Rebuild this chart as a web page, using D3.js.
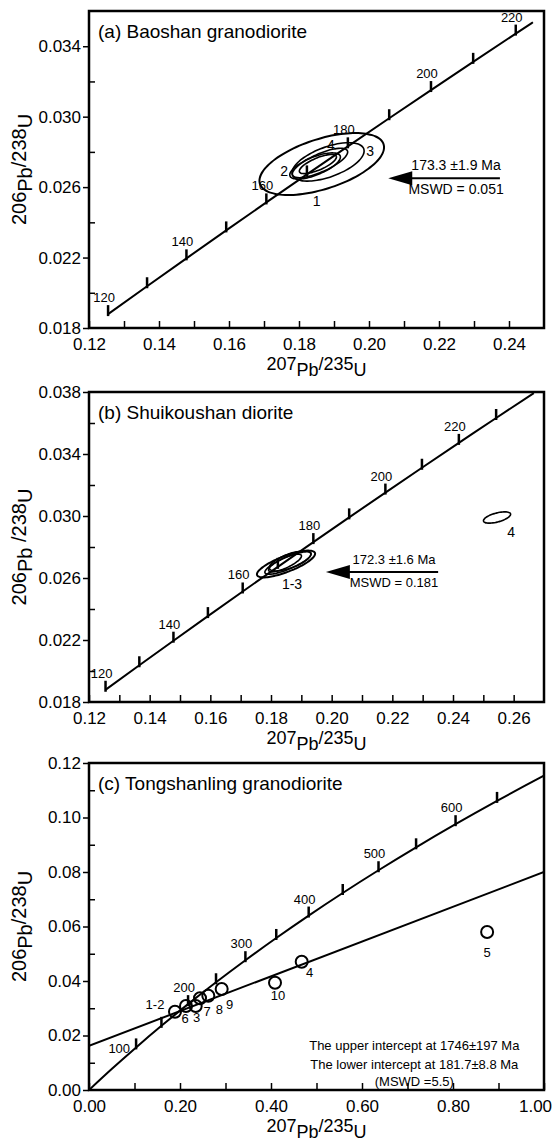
<!DOCTYPE html>
<meta charset="utf-8">
<html><head>
<title>U-Pb concordia</title>
<style>
  body { margin: 0; background: #fff; }
  text { font-family: "Liberation Sans", Arial, Helvetica, sans-serif; fill: #000; }
</style>
</head><body>
<script src="https://d3js.org/d3.v7.min.js"></script>
<script>

// ---- concordia (a) and (b): age (Ma), 207Pb/235U, 206Pb/238U
var concAge = [120, 130, 140, 150, 160, 170, 180, 190, 200, 210, 220, 224, 230, 240];
var concX   = [0.12545, 0.13659, 0.14784, 0.15920, 0.17067, 0.18226, 0.19396, 0.20577, 0.21771, 0.22976, 0.24193, 0.24683, 0.25422, 0.26664];
var concY   = [0.018789, 0.020371, 0.021955, 0.023542, 0.025131, 0.026722, 0.028316, 0.029912, 0.031511, 0.033113, 0.034717, 0.035360, 0.036323, 0.037932];
var concLabelAges = [120, 140, 160, 180, 200, 220];

// ---- concordia (c)
var concAgeC = [0, 50, 100, 150, 200, 250, 300, 350, 400, 450, 500, 550, 600, 650, 700, 704];
var concXC   = [0, 0.05048, 0.10350, 0.15920, 0.21771, 0.27917, 0.34374, 0.41156, 0.48281, 0.55766, 0.63628, 0.71887, 0.80563, 0.89677, 0.99251, 1.0];
var concYC   = [0, 0.007786, 0.015633, 0.023542, 0.031511, 0.039543, 0.047637, 0.055794, 0.064016, 0.072300, 0.080650, 0.089064, 0.097544, 0.10609, 0.114702, 0.11536];
var concLabelAgesC = [100, 200, 300, 400, 500, 600];

// ---- discordia (c)
var discX = [0, 1.0];
var discY = [0.0162, 0.0800];

// ---- error ellipses: centre, half extents, correlation
var ellA = [
  {label: "1", x: 0.1865, y: 0.02731, sx: 0.0178,  sy: 0.00176,  rho: 0.54},
  {label: "3", x: 0.1883, y: 0.02743, sx: 0.0103,  sy: 0.00109,  rho: 0.569},
  {label: "4", x: 0.1860, y: 0.02737, sx: 0.0079,  sy: 0.000835, rho: 0.748},
  {label: "2", x: 0.1846, y: 0.02720, sx: 0.00723, sy: 0.000744, rho: 0.679},
  {label: "",  x: 0.1854, y: 0.02731, sx: 0.0053,  sy: 0.000545, rho: 0.737}
];
var ellB = [
  {label: "1-3", x: 0.18495, y: 0.026903, sx: 0.00959, sy: 0.000864, rho: 0.771},
  {label: "",    x: 0.18627, y: 0.027100, sx: 0.00686, sy: 0.000645, rho: 0.672},
  {label: "",    x: 0.18561, y: 0.026968, sx: 0.00763, sy: 0.000724, rho: 0.816},
  {label: "",    x: 0.18462, y: 0.026968, sx: 0.00542, sy: 0.000571, rho: 0.786},
  {label: "4",   x: 0.25452, y: 0.029903, sx: 0.00447, sy: 0.000365, rho: 0.572}
];

// ---- spot analyses (c)
var ptLabels = ["1-2", "6", "3", "7", "8", "9", "10", "4", "5"];
var ptX = [0.189, 0.2132, 0.2345, 0.244, 0.2622, 0.2916, 0.4088, 0.4675, 0.875];
var ptY = [0.02873, 0.03083, 0.03083, 0.03365, 0.03461, 0.03706, 0.03938, 0.04708, 0.0580];

// ---- axis tick labels
var aXLabels = [0.12, 0.14, 0.16, 0.18, 0.20, 0.22, 0.24];
var aYLabels = [0.018, 0.022, 0.026, 0.030, 0.034];
var aYMinor  = [0.020, 0.024, 0.028, 0.032];
var bXLabels = [0.12, 0.14, 0.16, 0.18, 0.20, 0.22, 0.24, 0.26];
var bYLabels = [0.018, 0.022, 0.026, 0.030, 0.034, 0.038];
var bYMinor  = [0.020, 0.024, 0.028, 0.032, 0.036];
var cXLabels = [0, 0.2, 0.4, 0.6, 0.8, 1.0];
var cYLabels = [0, 0.02, 0.04, 0.06, 0.08, 0.10, 0.12];
var cYMinor  = [0.01, 0.03, 0.05, 0.07, 0.09, 0.11];

var ageTextA = ["173.3 \u00b11.9 Ma", "MSWD = 0.051"];
var ageTextB = ["172.3 \u00b11.6 Ma", "MSWD = 0.181"];
var interceptText = ["The upper intercept at 1746\u00b1197  Ma",
                     "The lower intercept at 181.7\u00b18.8 Ma",
                     "(MSWD =5.5)"];

var width = 559, height = 1148;
var L = 89, R = 544;

var svg = d3.select("body").append("svg")
    .attr("width", width)
    .attr("height", height);

function near(list, v) {
  return list.some(function(l) { return Math.abs(l - v) < 1e-9; });
}

function ratioLabel(sel, num1, el1, num2, el2) {
  sel.append("tspan").attr("dy", -6).text(num1);
  sel.append("tspan").attr("dy", 6).text(el1);
  sel.append("tspan").attr("dy", -6).text(num2);
  sel.append("tspan").attr("dy", 6).text(el2);
}

function makePanel(o) {
  var x = d3.scaleLinear().domain(o.xDom).range([L, R]);
  var y = d3.scaleLinear().domain(o.yDom).range([o.bottom, o.top]);
  var g = svg.append("g");

  g.append("clipPath").attr("id", o.id)
    .append("rect")
      .attr("x", L).attr("y", o.top)
      .attr("width", R - L).attr("height", o.bottom - o.top);

  // x axis, ticks pointing inward
  var xa = g.append("g")
      .attr("transform", "translate(0," + o.bottom + ")")
      .call(d3.axisBottom(x)
        .tickValues(o.xTicks)
        .tickSize(-7)
        .tickPadding(10)
        .tickFormat(function(v) { return near(o.xLabels, v) ? o.fmtX(v) : ""; }));
  xa.select(".domain").remove();
  xa.attr("font-size", 17);
  xa.selectAll("line").attr("stroke-width", 1.5);
  // last label on the right edge is pulled in a little, as in the print
  xa.selectAll("text").filter(function(v) { return v === o.xDom[1]; })
      .attr("dx", -9);

  // y axis: labelled ticks outward, minor ticks inward
  var ya = g.append("g")
      .attr("transform", "translate(" + L + ",0)")
      .call(d3.axisLeft(y).tickValues(o.yLabels).tickSize(6).tickPadding(2).tickFormat(o.fmtY));
  ya.select(".domain").remove();
  ya.attr("font-size", 17);
  ya.selectAll("line").attr("stroke-width", 1.5);

  var ym = g.append("g")
      .attr("transform", "translate(" + L + ",0)")
      .call(d3.axisLeft(y).tickValues(o.yMinor).tickSize(-6).tickFormat(""));
  ym.select(".domain").remove();
  ym.selectAll("line").attr("stroke-width", 1.5);

  g.append("rect")
      .attr("x", L).attr("y", o.top)
      .attr("width", R - L).attr("height", o.bottom - o.top)
      .attr("fill", "none").attr("stroke", "#000").attr("stroke-width", 2.5);

  // titles
  g.append("text")
      .attr("x", 98).attr("y", o.top + 27)
      .attr("font-size", 19)
      .text(o.title);

  var xt = g.append("text")
      .attr("x", (L + R) / 2).attr("y", o.bottom + 48)
      .attr("text-anchor", "middle")
      .attr("font-size", 18);
  ratioLabel(xt, "207", "Pb", "/235", "U");

  var yt = g.append("text")
      .attr("transform", "translate(32," + ((o.top + o.bottom) / 2) + ") rotate(-90)")
      .attr("text-anchor", "middle")
      .attr("font-size", 20);
  ratioLabel(yt, "206", "Pb", o.yGap ? " /238" : "/238", "U");

  var plot = g.append("g").attr("clip-path", "url(#" + o.id + ")");
  return {x: x, y: y, g: g, plot: plot};
}

function drawConcordia(p, ages, xs, ys, maxAge, tickAges, labelAges) {
  var pts = ages.map(function(a, i) { return {age: a, x: xs[i], y: ys[i]}; })
      .filter(function(d) { return d.age <= maxAge; });
  var line = d3.line()
      .x(function(d) { return p.x(d.x); })
      .y(function(d) { return p.y(d.y); })
      .curve(d3.curveMonotoneX);
  p.plot.append("path")
      .attr("d", line(pts))
      .attr("fill", "none").attr("stroke", "#000").attr("stroke-width", 2);

  var tk = pts.filter(function(d) { return tickAges.indexOf(d.age) >= 0; });
  p.plot.selectAll(null).data(tk).enter().append("line")
      .attr("x1", function(d) { return p.x(d.x); })
      .attr("x2", function(d) { return p.x(d.x); })
      .attr("y1", function(d) { return p.y(d.y) + 2; })
      .attr("y2", function(d) { return p.y(d.y) - 9; })
      .attr("stroke", "#000").attr("stroke-width", 2.5);

  p.g.selectAll(null).data(tk.filter(function(d) { return labelAges.indexOf(d.age) >= 0; }))
    .enter().append("text")
      .attr("x", function(d) { return p.x(d.x) - 4; })
      .attr("y", function(d) { return p.y(d.y) - 12; })
      .attr("text-anchor", "middle")
      .attr("font-size", 13)
      .text(function(d) { return d.age; });
}

function ellipsePath(p, e) {
  var q = Math.sqrt(1 - e.rho * e.rho);
  var pts = d3.range(0, 360, 6).map(function(t) {
    var a = t * Math.PI / 180;
    return [p.x(e.x + e.sx * Math.cos(a)),
            p.y(e.y + e.sy * (e.rho * Math.cos(a) + q * Math.sin(a)))];
  });
  return d3.line().curve(d3.curveCardinalClosed)(pts);
}

function drawEllipses(p, list, offsets) {
  p.plot.selectAll(null).data(list).enter().append("path")
      .attr("d", function(e) { return ellipsePath(p, e); })
      .attr("fill", "none").attr("stroke", "#000")
      .attr("stroke-width", function(e, i) { return i === 0 ? 2 : 1.6; });
  p.g.selectAll(null).data(list.filter(function(e) { return e.label; })).enter().append("text")
      .attr("x", function(e) { return p.x(e.x) + offsets[e.label][0]; })
      .attr("y", function(e) { return p.y(e.y) + offsets[e.label][1]; })
      .attr("text-anchor", "middle")
      .attr("font-size", 14)
      .text(function(e) { return e.label; });
}

function drawArrow(p, tipX, tailX, yv, lines, fs, below) {
  var x0 = p.x(tipX), x1 = p.x(tailX), y0 = p.y(yv);
  p.g.append("path")
      .attr("d", "M" + x0 + "," + y0 + "L" + (x0 + 24) + "," + (y0 - 7) + "L" + (x0 + 24) + "," + (y0 + 7) + "Z")
      .attr("fill", "#000");
  p.g.append("line")
      .attr("x1", x0 + 20).attr("x2", x1)
      .attr("y1", y0).attr("y2", y0)
      .attr("stroke", "#000").attr("stroke-width", 2);
  var cx = (x0 + x1) / 2 + 12;
  p.g.append("text").attr("x", cx).attr("y", y0 - 8)
      .attr("text-anchor", "middle").attr("font-size", fs).text(lines[0]);
  p.g.append("text").attr("x", cx).attr("y", y0 + below)
      .attr("text-anchor", "middle").attr("font-size", fs).text(lines[1]);
}

// ---------- (a)
var pa = makePanel({
  id: "clipA", top: 11, bottom: 328,
  xDom: [0.12, 0.25], yDom: [0.018, 0.036],
  xTicks: d3.range(12, 25).map(function(v) { return v / 100; }),
  xLabels: aXLabels, yLabels: aYLabels, yMinor: aYMinor,
  fmtX: d3.format(".2f"), fmtY: d3.format(".3f"),
  title: "(a) Baoshan granodiorite"
});
drawConcordia(pa, concAge, concX, concY, 224,
  [120, 130, 140, 150, 160, 170, 180, 190, 200, 210, 220], concLabelAges);
drawEllipses(pa, ellA, {"1": [-5, 42], "2": [-31, 10], "3": [42, -6], "4": [11, -13]});
drawArrow(pa, 0.2055, 0.2374, 0.0265, ageTextA, 14, 16);

// ---------- (b)
var pb = makePanel({
  id: "clipB", top: 392, bottom: 702,
  xDom: [0.12, 0.27], yDom: [0.018, 0.038],
  xTicks: d3.range(12, 27).map(function(v) { return v / 100; }),
  xLabels: bXLabels, yLabels: bYLabels, yMinor: bYMinor,
  fmtX: d3.format(".2f"), fmtY: d3.format(".3f"),
  title: "(b) Shuikoushan diorite", yGap: true
});
drawConcordia(pb, concAge, concX, concY, 240,
  [120, 130, 140, 150, 160, 170, 180, 190, 200, 210, 220, 230], concLabelAges);
drawEllipses(pb, ellB, {"1-3": [6, 25], "4": [14, 19]});
drawArrow(pb, 0.1981, 0.2351, 0.02639, ageTextB, 13, 15);

// ---------- (c)
var pc = makePanel({
  id: "clipC", top: 763, bottom: 1090,
  xDom: [0, 1.0], yDom: [0, 0.12],
  xTicks: d3.range(0, 11).map(function(v) { return v / 10; }),
  xLabels: cXLabels, yLabels: cYLabels, yMinor: cYMinor,
  fmtX: d3.format(".2f"), fmtY: d3.format(".2f"),
  title: "(c) Tongshanling granodiorite"
});

pc.plot.append("path")
    .attr("d", d3.line()(discX.map(function(v, i) { return [pc.x(v), pc.y(discY[i])]; })))
    .attr("fill", "none").attr("stroke", "#000").attr("stroke-width", 2);

drawConcordia(pc, concAgeC, concXC, concYC, 704,
  [100, 150, 200, 250, 300, 350, 400, 450, 500, 550, 600, 650], concLabelAgesC.filter(function(a) { return a !== 100; }));

// the 100 Ma label sits left of its tick
pc.g.append("text")
    .attr("x", pc.x(concXC[2]) - 6).attr("y", pc.y(concYC[2]) + 6)
    .attr("text-anchor", "end").attr("font-size", 13)
    .text(concLabelAgesC[0]);

var ptOff = {"1-2": [-20, -3], "6": [-1, 17], "3": [1, 16], "7": [7, 18], "8": [11, 18],
             "9": [8, 20], "10": [3, 17], "4": [8, 15], "5": [0, 25]};

pc.plot.selectAll(null).data(ptLabels).enter().append("circle")
    .attr("cx", function(d, i) { return pc.x(ptX[i]); })
    .attr("cy", function(d, i) { return pc.y(ptY[i]); })
    .attr("r", 6)
    .attr("fill", "none").attr("stroke", "#000").attr("stroke-width", 2);

pc.g.selectAll(null).data(ptLabels).enter().append("text")
    .attr("x", function(d, i) { return pc.x(ptX[i]) + ptOff[d][0]; })
    .attr("y", function(d, i) { return pc.y(ptY[i]) + ptOff[d][1]; })
    .attr("text-anchor", "middle")
    .attr("font-size", 13)
    .text(function(d) { return d; });

pc.g.selectAll(null).data(interceptText).enter().append("text")
    .attr("x", pc.x(0.715))
    .attr("y", function(d, i) { return pc.y(0) + [-40, -21, -4][i]; })
    .attr("text-anchor", "middle")
    .attr("font-size", 13)
    .text(function(d) { return d; });

</script>
</body>
</html>
